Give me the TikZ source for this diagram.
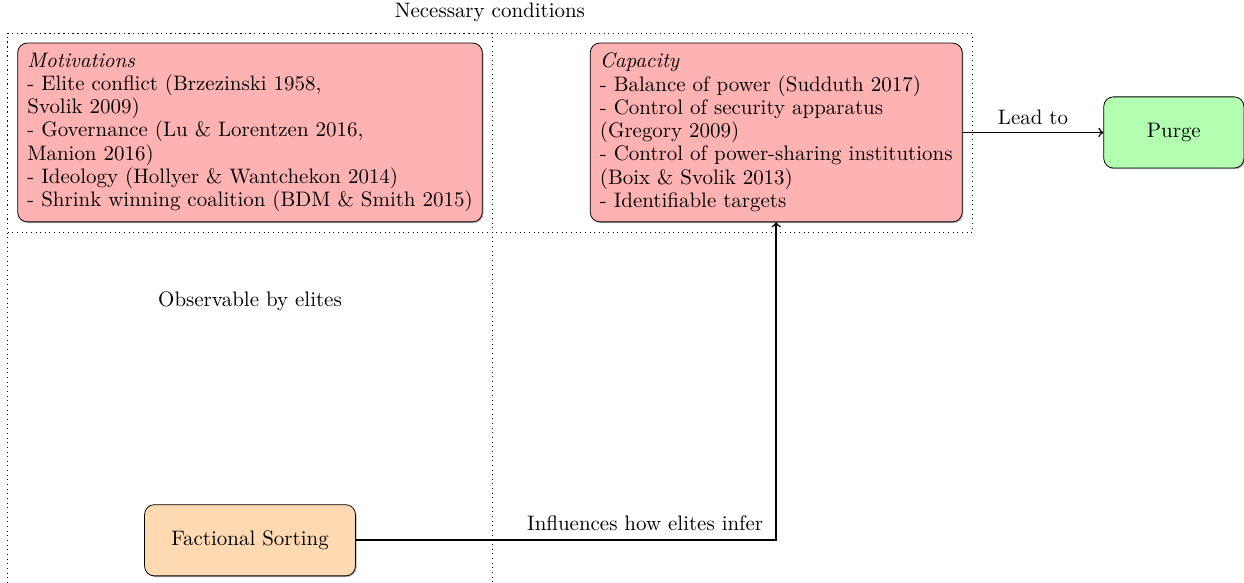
\documentclass[tikz,border=0pt]{standalone}
\usetikzlibrary{positioning}
\usetikzlibrary{fit}
\usetikzlibrary{shadows}
\tikzset {
  % rounded box with a faint shadow
  box/.style = {
    draw = black,
    rounded corners = 5pt,
    inner xsep = 5pt,
    inner ysep = 5pt,
    drop shadow = {shadow xshift = 0.6pt, shadow yshift = -0.6pt, opacity = 0.6}
  },
  % list of conditions
  cond/.style = {
    box,
    fill = red!30,
    align = left,
    minimum height = 3.24cm
  },
  outcome/.style = {
    box,
    fill = green!30,
    minimum width = 2.54cm,
    minimum height = 1.29cm
  },
  sorting/.style = {
    box,
    fill = orange!30,
    minimum width = 3.82cm,
    minimum height = 1.29cm
  },
  % dotted frame round a group of boxes
  group/.style = {
    draw = black,
    dotted,
    inner sep = 5pt
  },
  link/.style = {
    ->,
    thick
  },
  node distance = 1.94cm
}

\begin{document}
\begin{tikzpicture}[font=\fontsize{10.8}{12}\selectfont]
    \useasboundingbox (-4.53,2.40) rectangle (18.01,-8.16);

    \node[cond] (motivations) at (0,0) {\textit{Motivations}\\
      - Elite conflict (Brzezinski 1958,\\
      Svolik 2009)\\
      - Governance (Lu \& Lorentzen 2016,\\
      Manion 2016)\\
      - Ideology (Hollyer \& Wantchekon 2014)\\
      - Shrink winning coalition (BDM \& Smith 2015)};
    \node[cond] (capacity) [right=of motivations] {\textit{Capacity}\\
      - Balance of power (Sudduth 2017)\\
      - Control of security apparatus\\
      (Gregory 2009)\\
      - Control of power-sharing institutions\\
      (Boix \& Svolik 2013)\\
      - Identifiable targets};
    \node[outcome] (purge) [right=2.55cm of capacity] {Purge};
    \node[sorting] (sorting) [below=5.11cm of motivations] {Factional Sorting};

    \node[group, fit=(motivations) (capacity)] (necessary) {};
    \node[group, fit=(motivations) (sorting)] (observable) {};
    \node[above=2pt of necessary] (necessary-label) {Necessary conditions};
    \node[below=1.14cm of motivations] (observable-label) {Observable by elites};

    \draw[link] (capacity) -- node[above] {Lead to} (purge);

    \draw[link] (sorting)
      -| node[above left, xshift=-3pt, yshift=1pt] {Influences how elites infer} (capacity);
\end{tikzpicture}
\end{document}
